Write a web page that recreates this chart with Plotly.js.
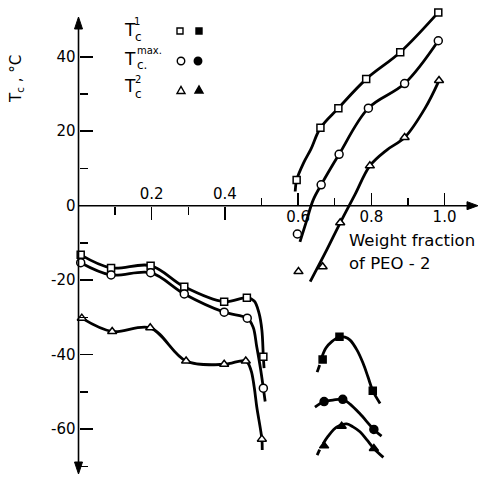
<!DOCTYPE html>
<html>
<head>
<meta charset="utf-8">
<script src="https://cdn.plot.ly/plotly-3.0.1.min.js"></script>
<style>html,body{margin:0;padding:0;background:#fff;}#chart{width:478px;height:478px;}</style>
</head>
<body>
<div id="chart"></div>
<script>
// ---------- data ----------
// open symbols, PEO-2 poor branch
const t1LeftX = [0.006, 0.089, 0.197, 0.289, 0.398, 0.460, 0.505];
const t1LeftY = [-13.2, -16.7, -16.1, -21.8, -25.8, -24.7, -40.6];
const tmLeftX = [0.006, 0.089, 0.197, 0.289, 0.398, 0.461, 0.505];
const tmLeftY = [-15.3, -18.6, -18.0, -23.7, -28.6, -30.2, -49.0];
const t2LeftX = [0.009, 0.092, 0.196, 0.294, 0.398, 0.457, 0.501];
const t2LeftY = [-30.2, -33.8, -32.8, -41.7, -42.6, -41.7, -62.7];
// hand-drawn curves of that branch
const t1LeftCurveX = [0.006, 0.089, 0.197, 0.289, 0.398, 0.460, 0.480, 0.493, 0.501, 0.505, 0.507];
const t1LeftCurveY = [-13.2, -16.7, -16.1, -21.8, -25.8, -24.7, -25.6, -28.8, -33.4, -40.6, -43.6];
const tmLeftCurveX = [0.006, 0.089, 0.197, 0.289, 0.398, 0.461, 0.477, 0.487, 0.497, 0.505, 0.510];
const tmLeftCurveY = [-15.3, -18.6, -18.0, -23.7, -28.6, -30.2, -32.6, -37.9, -43.6, -49.0, -52.6];
const t2LeftCurveX = [0.009, 0.092, 0.196, 0.294, 0.398, 0.457, 0.471, 0.480, 0.487, 0.501, 0.502];
const t2LeftCurveY = [-30.2, -33.8, -32.8, -41.7, -42.6, -41.7, -44.1, -48.7, -54.0, -62.7, -65.6];

// open symbols, PEO-2 rich branch
const t1RightX = [0.596, 0.661, 0.710, 0.786, 0.879, 0.983];
const t1RightY = [6.9, 20.9, 26.2, 34.0, 41.2, 51.9];
const tmRightX = [0.598, 0.663, 0.712, 0.792, 0.891, 0.983];
const tmRightY = [-7.6, 5.6, 13.8, 26.2, 32.8, 44.3];
const t2RightX = [0.601, 0.667, 0.715, 0.796, 0.891, 0.985];
const t2RightY = [-17.7, -16.4, -4.6, 10.7, 18.3, 33.6];
const t1RightCurveX = [0.592, 0.596, 0.616, 0.635, 0.661, 0.710, 0.786, 0.879, 0.983];
const t1RightCurveY = [3.8, 6.9, 11.7, 15.2, 20.9, 26.2, 34.0, 41.2, 51.9];
const tmRightCurveX = [0.605, 0.622, 0.641, 0.663, 0.712, 0.792, 0.891, 0.983];
const tmRightCurveY = [-9.7, -4.4, 1.5, 5.6, 13.8, 26.2, 32.8, 44.3];
const t2RightCurveX = [0.633, 0.674, 0.715, 0.756, 0.796, 0.843, 0.891, 0.947, 0.985];
const t2RightCurveY = [-20.4, -12.7, -4.6, 3.1, 10.7, 15.0, 18.3, 26.2, 33.6];

// filled symbols
const t1FillX = [0.667, 0.713, 0.804];
const t1FillY = [-41.3, -35.2, -49.7];
const tmFillX = [0.671, 0.722, 0.807];
const tmFillY = [-52.6, -52.0, -60.1];
const t2FillX = [0.671, 0.719, 0.807];
const t2FillY = [-64.5, -59.2, -65.2];
const t1FillCurveX = [0.665, 0.676, 0.692, 0.713, 0.728, 0.742, 0.761, 0.777, 0.791, 0.804, 0.824];
const t1FillCurveY = [-40.6, -38.2, -36.5, -35.2, -35.3, -36.1, -38.8, -42.2, -46.0, -49.7, -53.1];
const t1FillDashX = [0.652, 0.659];
const t1FillDashY = [-44.7, -42.8];
const tmFillCurveX = [0.646, 0.671, 0.695, 0.722, 0.742, 0.769, 0.807, 0.828];
const tmFillCurveY = [-54.1, -52.6, -52.2, -52.0, -53.3, -55.9, -60.1, -61.9];
const t2FillCurveX = [0.668, 0.682, 0.706, 0.733, 0.750, 0.769, 0.788, 0.807, 0.833];
const t2FillCurveY = [-64.0, -61.9, -59.4, -58.6, -59.4, -60.7, -62.9, -65.2, -67.6];
const t2FillDashX = [0.652, 0.659];
const t2FillDashY = [-67.0, -65.5];

// ticks
const yTickVals = [-60, -40, -20, 0, 20, 40];
const yTickText = ['-60', '-40', '-20', '0', '20', '40'];
const yMinorVals = [-70, -50, -30, -10, 10, 30];
const xLowTickVals = [0.2, 0.4];
const xLowTickText = ['0.2', '0.4'];
const xLowMinorVals = [0.1, 0.3];
const xHighTickVals = [0.6, 0.8, 1.0];
const xHighTickText = ['0.6', '0.8', '1.0'];
const xHighMinorVals = [0.5, 0.7, 0.9];

// ---------- drawing ----------
const W = 478, H = 478;
const FONT = 'DejaVu Sans, sans-serif';
const X_RANGE = [-0.2145, 1.0915];
const Y_RANGE = [-73.13, 55.24];
const yAxisPos = (0 - X_RANGE[0]) / (X_RANGE[1] - X_RANGE[0]);
const xAxisPos = (0 - Y_RANGE[0]) / (Y_RANGE[1] - Y_RANGE[0]);
const px = v => v / W;
const py = v => 1 - v / H;
const LW = 2.8;

function curve(x, y, xa) {
  return {x: x, y: y, xaxis: xa, yaxis: 'y', mode: 'lines', type: 'scatter',
          line: {color: 'black', width: LW, shape: 'spline', smoothing: 1},
          hoverinfo: 'skip', showlegend: false};
}
function pts(x, y, xa, symbol, size, filled) {
  return {x: x, y: y, xaxis: xa, yaxis: 'y', mode: 'markers', type: 'scatter', cliponaxis: false,
          marker: {symbol: symbol, size: size, color: filled ? 'black' : 'white',
                   line: {color: 'black', width: 1.5}},
          hoverinfo: 'skip', showlegend: false};
}

const traces = [
  curve(t1LeftCurveX, t1LeftCurveY, 'x2'),
  curve(tmLeftCurveX, tmLeftCurveY, 'x2'),
  curve(t2LeftCurveX, t2LeftCurveY, 'x2'),
  curve(t1RightCurveX, t1RightCurveY, 'x'),
  curve(tmRightCurveX, tmRightCurveY, 'x'),
  curve(t2RightCurveX, t2RightCurveY, 'x'),
  curve(t1FillCurveX, t1FillCurveY, 'x'),
  curve(t1FillDashX, t1FillDashY, 'x'),
  curve(tmFillCurveX, tmFillCurveY, 'x'),
  curve(t2FillCurveX, t2FillCurveY, 'x'),
  curve(t2FillDashX, t2FillDashY, 'x'),
  pts(t1LeftX, t1LeftY, 'x2', 'square', 7, false),
  pts(tmLeftX, tmLeftY, 'x2', 'circle', 8, false),
  pts(t2LeftX, t2LeftY, 'x2', 'triangle-up', 8, false),
  pts(t1RightX, t1RightY, 'x', 'square', 7, false),
  pts(tmRightX, tmRightY, 'x', 'circle', 8, false),
  pts(t2RightX, t2RightY, 'x', 'triangle-up', 8, false),
  pts(t1FillX, t1FillY, 'x', 'square', 7, true),
  pts(tmFillX, tmFillY, 'x', 'circle', 8, true),
  pts(t2FillX, t2FillY, 'x', 'triangle-up', 8, true)
];

const tickFont = {family: FONT, size: 15, color: 'black'};
const axisCommon = {
  range: X_RANGE, anchor: 'free', position: xAxisPos, showgrid: false, zeroline: false,
  showline: false, ticks: 'inside', ticklen: 13, tickwidth: 1.5, tickcolor: 'black',
  tickmode: 'array', tickfont: tickFont, automargin: false, fixedrange: true
};

function txt(text, x, y, size, xanchor, extra) {
  return Object.assign({text: text, xref: 'paper', yref: 'paper', x: px(x), y: py(y),
    xanchor: xanchor || 'center', yanchor: 'middle', showarrow: false,
    font: {family: FONT, size: size, color: 'black'}}, extra || {});
}

const annotations = [
  txt('T<sub>c</sub> , °C', 16, 79, 15, 'center', {textangle: -90}),
  txt('Weight fraction', 347, 240, 16.5, 'left'),
  txt('of PEO - 2', 347, 263, 16.5, 'left'),
  // legend labels (T with stacked super/subscripts)
  txt('T', 130, 30.5, 17), txt('1', 137, 22, 10), txt('c', 138.5, 37, 12),
  txt('T', 130, 59, 17), txt('max.', 135, 51, 10, 'left'), txt('c.', 135, 65, 12, 'left'),
  txt('T', 130, 86.5, 17), txt('2', 138, 79, 10), txt('c', 138.5, 94, 12)
];

const SW = 1.4;
function rect(cx, cy, s, fill) {
  return {type: 'rect', xref: 'paper', yref: 'paper', x0: px(cx - s / 2), x1: px(cx + s / 2),
          y0: py(cy + s / 2), y1: py(cy - s / 2), fillcolor: fill, line: {color: 'black', width: SW}};
}
function circ(cx, cy, d, fill) {
  return {type: 'circle', xref: 'paper', yref: 'paper', x0: px(cx - d / 2), x1: px(cx + d / 2),
          y0: py(cy + d / 2), y1: py(cy - d / 2), fillcolor: fill, line: {color: 'black', width: SW}};
}
function poly(points, fill, lw) {
  const p = points.map((q, i) => (i ? 'L ' : 'M ') + px(q[0]) + ' ' + py(q[1])).join(' ') + ' Z';
  return {type: 'path', xref: 'paper', yref: 'paper', path: p, fillcolor: fill,
          line: {color: 'black', width: lw}};
}

const shapes = [
  // axis lines
  {type: 'line', xref: 'x', yref: 'y', x0: 0, x1: 0, y0: -70.5, y1: 48, line: {color: 'black', width: 1.6}},
  {type: 'line', xref: 'x', yref: 'y', x0: 0, x1: 1.07, y0: 0, y1: 0, line: {color: 'black', width: 1.6}},
  // arrow heads of the axes (pixel positions)
  poly([[78.5, 17], [74.5, 29], [82.5, 29]], 'black', 1),
  poly([[78.5, 474], [74.5, 462], [82.5, 462]], 'black', 1),
  poly([[478, 205.7], [467, 201.7], [467, 209.7]], 'black', 1),
  // legend symbols
  rect(180, 31, 6, 'white'), rect(199, 31, 6, 'black'),
  circ(181, 61, 7.5, 'white'), circ(198, 61, 7.5, 'black'),
  poly([[177, 93.5], [185, 93.5], [181, 86.5]], 'white', SW),
  poly([[195, 93], [203, 93], [199, 86]], 'black', SW)
];

const layout = {
  width: W, height: H, autosize: false,
  margin: {l: 0, r: 0, t: 0, b: 0, pad: 0},
  paper_bgcolor: 'white', plot_bgcolor: 'white',
  showlegend: false,
  xaxis: Object.assign({}, axisCommon, {side: 'bottom', tickvals: xHighTickVals, ticktext: xHighTickText,
    minor: {tickmode: 'array', tickvals: xHighMinorVals, ticks: 'inside', ticklen: 8, tickwidth: 1.5, tickcolor: 'black'}}),
  xaxis2: Object.assign({}, axisCommon, {side: 'top', overlaying: 'x', tickvals: xLowTickVals, ticktext: xLowTickText,
    ticklabelstandoff: 4,
    minor: {tickmode: 'array', tickvals: xLowMinorVals, ticks: 'inside', ticklen: 8, tickwidth: 1.5, tickcolor: 'black'}}),
  yaxis: {range: Y_RANGE, anchor: 'free', position: yAxisPos, side: 'left', showgrid: false, zeroline: false,
    showline: false, ticks: 'inside', ticklen: 13, tickwidth: 1.5, tickcolor: 'black',
    tickmode: 'array', tickvals: yTickVals, ticktext: yTickText, tickfont: tickFont,
    automargin: false, fixedrange: true, ticklabelstandoff: 3,
    minor: {tickmode: 'array', tickvals: yMinorVals, ticks: 'inside', ticklen: 8, tickwidth: 1.5, tickcolor: 'black'}},
  annotations: annotations,
  shapes: shapes
};

Plotly.newPlot('chart', traces, layout, {staticPlot: true, displayModeBar: false});
</script>
</body>
</html>
